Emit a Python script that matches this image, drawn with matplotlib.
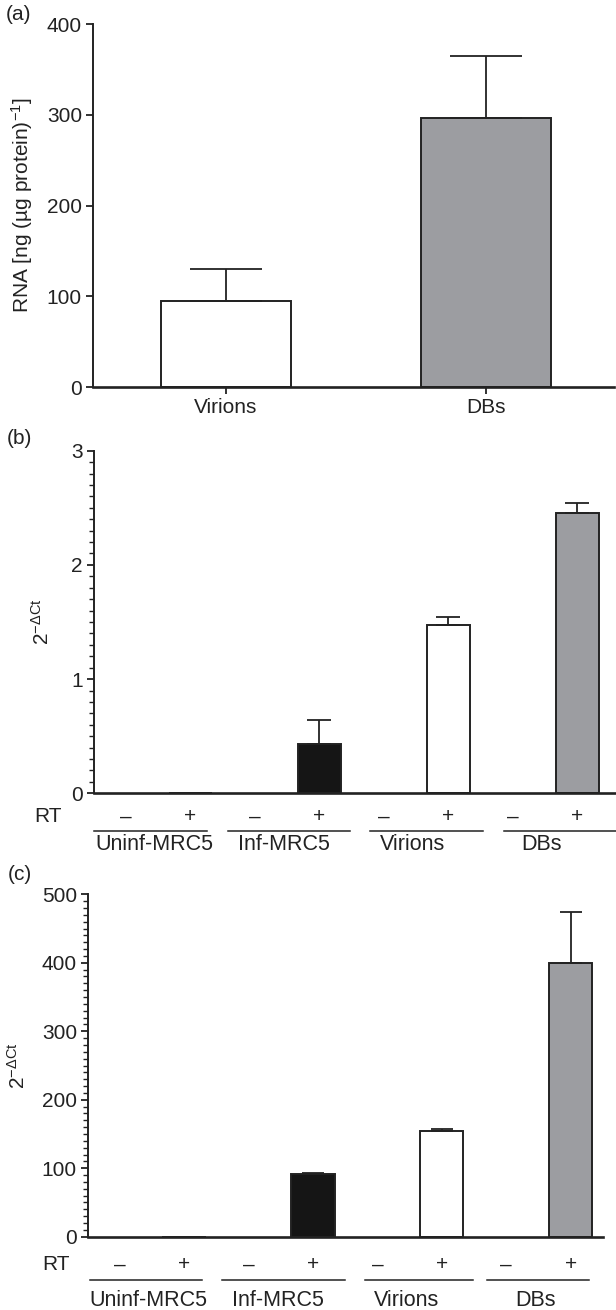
import numpy as np
import matplotlib
matplotlib.use("Agg")
import matplotlib.pyplot as plt
from matplotlib.ticker import MultipleLocator
import matplotlib.transforms as mtransforms

plt.rcParams['font.family'] = ['Liberation Sans', 'DejaVu Sans']
plt.rcParams['mathtext.fontset'] = 'custom'
plt.rcParams['mathtext.rm'] = 'Liberation Sans'
plt.rcParams['mathtext.it'] = 'Liberation Sans:italic'
plt.rcParams['mathtext.bf'] = 'Liberation Sans:bold'

# panel (a) data
a_labels = ['Virions', 'DBs']
a_means = [95, 296]
a_err = [35, 69]

# panels (b) and (c): RT+ values per group, RT- all zero
groups = ['Uninf-MRC5', 'Inf-MRC5', 'Virions', 'DBs']
rt_signs = ['\u2013', '+']
b_means = [0, 0.43, 1.475, 2.455]
b_err = [0, 0.21, 0.065, 0.09]
c_means = [0, 91, 155, 399]
c_err = [0, 1.5, 2.5, 75]
group_colors = ['white', '#151515', 'white', '#9c9da1']

EDGE = '#222222'
FS = 15
W, H = 616, 1310
fig = plt.figure(figsize=(W / 100, H / 100), dpi=100)


def box(l, t, r, b):
    # pixel box -> figure fraction
    return [l / W, 1 - b / H, (r - l) / W, (b - t) / H]


def style(ax):
    for s in ['top', 'right']:
        ax.spines[s].set_visible(False)
    ax.spines['left'].set_linewidth(1.4)
    ax.spines['bottom'].set_linewidth(1.9)
    ax.spines['left'].set_color(EDGE)
    ax.spines['bottom'].set_color(EDGE)
    ax.tick_params(axis='y', direction='out', length=5, width=1.3, labelsize=FS, colors=EDGE, pad=3)
    ax.tick_params(axis='y', which='minor', direction='out', length=3.5, width=1.0, colors=EDGE)


# ---- (a)
ax = fig.add_axes(box(93, 24, 614, 387))
style(ax)
xa = np.arange(len(a_labels))
ax.bar(xa, a_means, width=0.5, color=['white', '#9c9da1'], edgecolor=EDGE, linewidth=1.4, zorder=2)
ax.errorbar(xa, a_means, yerr=[np.zeros(2), a_err], fmt='none', ecolor=EDGE,
            elinewidth=1.3, capsize=26, capthick=1.3, zorder=3)
ax.set_xlim(-0.51, 1.494)
ax.set_ylim(0, 400)
ax.set_yticks([0, 100, 200, 300, 400])
ax.set_xticks(xa)
ax.set_xticklabels(a_labels, fontsize=FS, color=EDGE)
ax.tick_params(axis='x', direction='out', length=5, width=1.3, colors=EDGE, pad=3)
ax.set_ylabel('RNA [ng (\u00b5g protein)$^{-1}$]', fontsize=FS, color=EDGE)
ax.yaxis.set_label_coords(-0.111, 0.5)
fig.text(6 / W, 1 - 15 / H, '(a)', fontsize=FS, color=EDGE, va='center')


def rt_panel(ax, means, err, ymax, major, minor, capsize, label_x,
             rt_x, off_rt, off_line, off_lab, spans, xlim):
    style(ax)
    pos = np.arange(len(groups)) * 2 + 1
    ax.bar(pos, means, width=0.67, color=group_colors, edgecolor=EDGE, linewidth=1.4, zorder=2)
    m = np.array(means) > 0
    ax.errorbar(pos[m], np.array(means)[m], yerr=[np.zeros(m.sum()), np.array(err)[m]],
                fmt='none', ecolor=EDGE, elinewidth=1.3, capsize=capsize, capthick=1.3, zorder=3)
    ax.set_xlim(*xlim)
    ax.set_ylim(0, ymax)
    ax.yaxis.set_major_locator(MultipleLocator(major))
    ax.yaxis.set_minor_locator(MultipleLocator(minor))
    ax.set_xticks([])
    ax.set_ylabel('2$^{-\\Delta\\mathrm{Ct}}$', fontsize=FS, color=EDGE)
    ax.yaxis.set_label_coords(label_x, 0.5)

    h = ax.get_position().height * H
    tr = mtransforms.blended_transform_factory(ax.transData, ax.transAxes)
    for g in range(len(groups)):
        for k, s in enumerate(rt_signs):
            ax.text(2 * g + k, -off_rt / h, s, transform=tr, ha='center', va='center',
                    fontsize=FS, color=EDGE, clip_on=False)
        x0, x1 = spans[g]
        ax.plot([x0, x1], [-off_line / h] * 2, transform=tr, color=EDGE, lw=1.1, clip_on=False)
        ax.text(2 * g + 0.45, -off_lab / h, groups[g], transform=tr, ha='center', va='center',
                fontsize=FS + 0.5, color=EDGE, clip_on=False)
    axw = ax.get_position()
    fig.text(rt_x / W, axw.y0 - off_rt / H, 'RT', fontsize=FS, color=EDGE, ha='center', va='center')


# ---- (b)
axb = fig.add_axes(box(94, 450.7, 616, 793.3))
rt_panel(axb, b_means, b_err, 3, 1, 0.1, 8.6, -0.079, 48, 23.5, 37.4, 51.5,
         [(-0.49, 1.26), (1.59, 3.48), (3.79, 5.54), (5.87, 7.6)], (-0.49, 7.6))
fig.text(7 / W, 1 - 438 / H, '(b)', fontsize=FS, color=EDGE, va='center')

# ---- (c)
axc = fig.add_axes(box(88, 894.3, 603, 1236.7))
rt_panel(axc, c_means, c_err, 500, 100, 10, 7.8, -0.115, 56, 28.3, 43.3, 63.3,
         [(-0.46, 1.28), (1.59, 3.5), (3.81, 5.48), (5.7, 7.29)], (-0.49, 7.5))
fig.text(8 / W, 1 - 875 / H, '(c)', fontsize=FS, color=EDGE, va='center')

fig.savefig('out.png', dpi=100)
